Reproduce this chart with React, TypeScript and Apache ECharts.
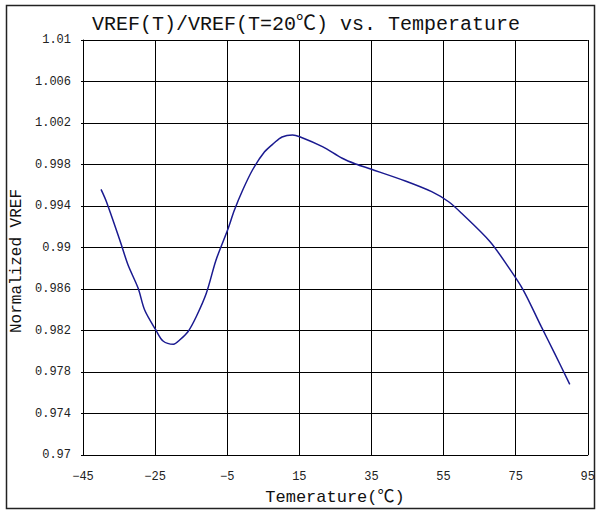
import React, { useEffect, useRef } from "react";
import * as echarts from "echarts";

const X_BASE = -45;
const X_MAX = 95;
const X_STEP = 20;
const Y_BASE = 0.97;
const Y_MAX = 1.01;
const Y_STEP = 0.004;

const temps = [-40, -38.5, -34.8, -32.5, -29.7, -27.9, -24.8, -22.8, -19.9, -18.2, -15.9, -13.6, -10.8, -8.1, -4.9, -3.0, -0.7, 2.0, 5.3, 8.0, 10.2, 13.1, 15.1, 21.4, 26.9, 30.6, 35.0, 44.4, 51.7, 56.4, 60.0, 67.9, 72.9, 77.1, 82.1, 85.8, 90.0];
const values = [0.9956, 0.99441, 0.99072, 0.98831, 0.98607, 0.98398, 0.98205, 0.98099, 0.98067, 0.98108, 0.98188, 0.98333, 0.98559, 0.9888, 0.99169, 0.99361, 0.99554, 0.99747, 0.9992, 1.00007, 1.00065, 1.00084, 1.00068, 0.99972, 0.9986, 0.99805, 0.99754, 0.99641, 0.99538, 0.99441, 0.9933, 0.99056, 0.98815, 0.9859, 0.98237, 0.9798, 0.97681];

const titleText = "VREF(T)/VREF(T=20℃) vs. Temperature";
const xName = "Temerature(℃)";
const yName = "Normalized VREF";

const FONT = '"Liberation Mono", "Noto Sans CJK SC", monospace';

export default function App() {
  const ref = useRef<HTMLDivElement>(null);
  useEffect(() => {
    if (!ref.current) return;
    const chart = echarts.init(ref.current, null, { renderer: "svg" });
    const data = temps.map((t, i) => [t - X_BASE, values[i] - Y_BASE]);
    chart.setOption({
      animation: false,
      backgroundColor: "#fff",
      title: {
        text: titleText,
        left: 301,
        top: 9,
        textAlign: "center",
        textStyle: { fontFamily: FONT, fontSize: 20, fontWeight: "normal", color: "#111" },
      },
      grid: { left: 83, right: 8, top: 40, bottom: 56, containLabel: false },
      xAxis: {
        type: "value",
        min: 0,
        max: X_MAX - X_BASE,
        interval: X_STEP,
        axisLine: { show: true, lineStyle: { color: "#000", width: 1 } },
        axisTick: { show: false },
        axisLabel: {
          margin: 16,
          fontFamily: FONT,
          fontSize: 12,
          color: "#222",
          formatter: (v: number) => String(Math.round(v + X_BASE)).replace("-", "−"),
        },
        splitLine: { show: true, lineStyle: { color: "#000", width: 1 } },
      },
      yAxis: {
        type: "value",
        min: 0,
        max: parseFloat((Y_MAX - Y_BASE).toFixed(6)),
        interval: Y_STEP,
        axisLine: { show: true, lineStyle: { color: "#000", width: 1 } },
        axisTick: { show: true, length: 2, lineStyle: { color: "#000" } },
        axisLabel: {
          margin: 12,
          fontFamily: FONT,
          fontSize: 12,
          color: "#222",
          formatter: (v: number) => String(parseFloat((Y_BASE + v).toFixed(3))),
        },
        splitLine: { show: true, lineStyle: { color: "#000", width: 1 } },
      },
      graphic: [
        {
          type: "rect",
          shape: { x: 6.5, y: 5.5, width: 588, height: 503 },
          style: { fill: "none", stroke: "#222", lineWidth: 1.5 },
          silent: true,
        },
        {
          type: "text",
          x: 335,
          y: 497,
          style: {
            text: xName,
            fontFamily: FONT,
            fontSize: 17,
            fill: "#111",
            align: "center",
            verticalAlign: "middle",
          },
        },
        {
          type: "text",
          x: 17,
          y: 261,
          rotation: Math.PI / 2,
          style: {
            text: yName,
            fontFamily: FONT,
            fontSize: 16,
            fill: "#111",
            align: "center",
            verticalAlign: "middle",
          },
        },
      ],
      series: [
        {
          type: "line",
          data,
          showSymbol: false,
          smooth: 0.3,
          lineStyle: { color: "#1a1a90", width: 1.5 },
        },
      ],
    });
    return () => chart.dispose();
  }, []);
  return <div ref={ref} style={{ position: "fixed", left: 0, top: 0, width: 598, height: 511 }} />;
}
